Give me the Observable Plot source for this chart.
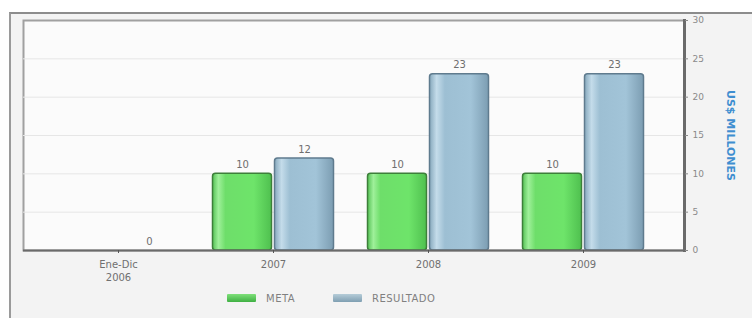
<!DOCTYPE html>
<html>
<head>
<meta charset="utf-8">
<script src="https://cdn.jsdelivr.net/npm/d3@7"></script>
<script src="https://cdn.jsdelivr.net/npm/@observablehq/plot@0.6"></script>
<style>
  html, body { margin: 0; padding: 0; background: #fff; width: 752px; height: 318px; overflow: hidden; font-family: "DejaVu Sans", Arial, sans-serif; }
  #panel { position: absolute; left: 9px; top: 12px; width: 743px; height: 306px; background: #f3f3f3; border-top: 2px solid #8c8c8c; border-left: 2px solid #9a9a9a; }
  #chart { position: absolute; left: 0; top: 0; }
  #legend { position: absolute; left: 0; top: 292px; width: 752px; height: 14px; font-size: 10px; color: #808080; letter-spacing: 0.5px; }
  .item { position: absolute; top: 0; display: flex; align-items: center; height: 12px; }
  .sw { display: inline-block; width: 29px; height: 8px; margin-right: 10px; border-radius: 1px; }
</style>
</head>
<body>
<div id="panel"></div>
<div id="chart"></div>
<div id="legend"></div>
<script>
const categories = ["Ene-Dic\n2006", "2007", "2008", "2009"];
const meta = [null, 10, 10, 10];
const resultado = [0, 12, 23, 23];
const yTicks = [0, 5, 10, 15, 20, 25, 30];
const seriesNames = ["META", "RESULTADO"];

const metaData = categories.map((c, i) => ({cat: c, v: meta[i]})).filter(d => d.v != null);
const resData = categories.map((c, i) => ({cat: c, v: resultado[i]})).filter(d => d.v != null);

const plot = Plot.plot({
  width: 752,
  height: 288,
  marginLeft: 23,
  marginRight: 68,
  marginTop: 20,
  marginBottom: 38,
  style: {background: "transparent", fontFamily: "DejaVu Sans, Arial, sans-serif"},
  x: {type: "band", domain: categories, range: [40.5, 660.5], paddingInner: 0.2, paddingOuter: 0.1, label: null},
  y: {domain: [0, 30], label: null},
  marks: [
    Plot.frame({fill: "#fbfbfb", stroke: "#a0a0a0", strokeWidth: 2}),
    Plot.gridY(yTicks.filter(t => t > 0 && t < 30), {stroke: "#e6e6e6", strokeOpacity: 1}),
    Plot.barY(metaData, {x: "cat", y: "v", fill: "url(#gGreen)", stroke: "#3d7f3a", strokeWidth: 1.5, insetLeft: 1.5, insetRight: 63.5, rx: 3}),
    Plot.barY(resData.filter(d => d.v > 0), {x: "cat", y: "v", fill: "url(#gBlue)", stroke: "#5f7b8e", strokeWidth: 1.5, insetLeft: 63.5, insetRight: 1.5, rx: 3}),
    Plot.text(metaData, {x: "cat", y: "v", text: d => String(d.v), dx: -31, dy: -9, fill: "#6e6e6e", fontSize: 10}),
    Plot.text(resData, {x: "cat", y: "v", text: d => String(d.v), dx: 31, dy: -9, fill: "#6e6e6e", fontSize: 10}),
    Plot.ruleY([0], {stroke: "#6a6a6a", strokeWidth: 2}),
    Plot.frame({anchor: "right", stroke: "#6a6a6a", strokeWidth: 3}),
    Plot.axisX({tickSize: 3, tickPadding: 5, fontSize: 10, lineHeight: 1.3, color: "#707070", stroke: "#555"}),
    Plot.axisY({anchor: "right", ticks: yTicks, tickSize: 3, tickPadding: 5, fontSize: 9, color: "#8a8a8a"}),
    Plot.text(["US$ MILLONES"], {frameAnchor: "right", textAnchor: "middle", dx: 46, rotate: 90, fill: "#3f8ed0", fontSize: 11, fontWeight: "bold"})
  ]
});

const ns = "http://www.w3.org/2000/svg";
const defs = document.createElementNS(ns, "defs");
function grad(id, stops) {
  const g = document.createElementNS(ns, "linearGradient");
  g.setAttribute("id", id);
  g.setAttribute("x1", "0"); g.setAttribute("x2", "1"); g.setAttribute("y1", "0"); g.setAttribute("y2", "0");
  stops.forEach(([o, c]) => {
    const s = document.createElementNS(ns, "stop");
    s.setAttribute("offset", o); s.setAttribute("stop-color", c);
    g.appendChild(s);
  });
  defs.appendChild(g);
}
grad("gGreen", [[0, "#55c255"], [0.1, "#9ff09a"], [0.22, "#6ede6a"], [0.7, "#6ee46a"], [1, "#4fc04f"]]);
grad("gBlue", [[0, "#86a8bc"], [0.12, "#c4dcea"], [0.26, "#9dbfd3"], [0.7, "#a2c4d8"], [1, "#7c9db2"]]);
plot.insertBefore(defs, plot.firstChild);
document.getElementById("chart").appendChild(plot);

const legend = document.getElementById("legend");
const items = [
  {name: seriesNames[0], bg: "linear-gradient(#7fe07a, #3fb043)", left: 227},
  {name: seriesNames[1], bg: "linear-gradient(#b5ccd8, #7f9fb2)", left: 333}
];
items.forEach(it => {
  const d = document.createElement("div");
  d.className = "item";
  d.style.left = it.left + "px";
  d.innerHTML = `<span class="sw" style="background:${it.bg}"></span><span>${it.name}</span>`;
  legend.appendChild(d);
});
</script>
</body>
</html>
